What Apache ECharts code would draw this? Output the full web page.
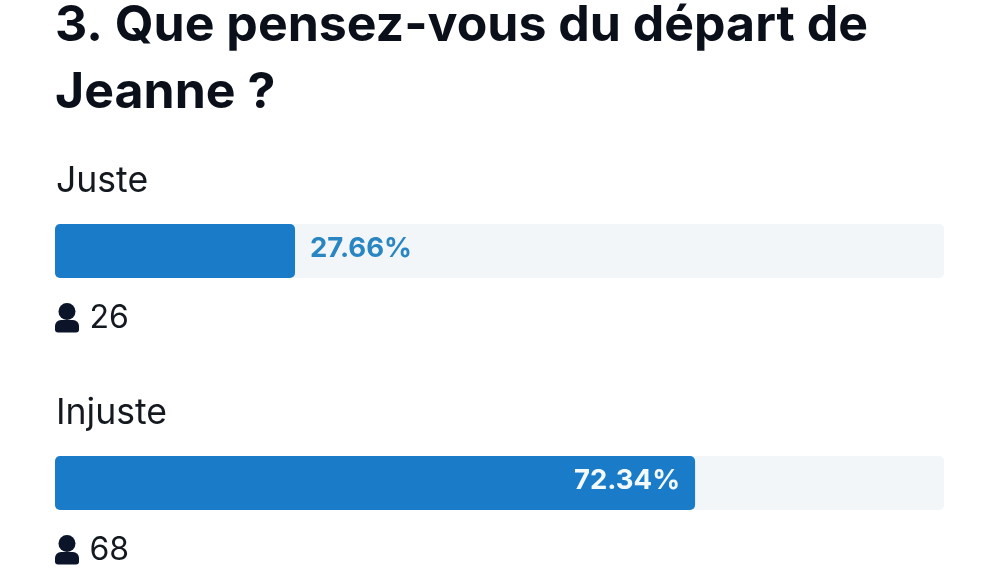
<!DOCTYPE html>
<html><head><meta charset="utf-8">
<style>html,body{margin:0;padding:0;background:#fff}#c{width:1000px;height:573px}</style>
<script src="https://cdn.jsdelivr.net/npm/echarts@6/dist/echarts.min.js"></script>
</head><body><div id="c"></div>
<script>
const titleText = "3. Que pensez-vous du départ de\nJeanne ?";
const categories = ["Juste", "Injuste"];
const barLengths = [27, 72];
const percentLabels = ["27.66%", "72.34%"];
const counts = [26, 68];

const FONT = "Inter";
const barTop = [224, 456];
const barH = 54;

const grids = [], xAxes = [], yAxes = [], series = [], graphics = [];
categories.forEach((c, i) => {
  grids.push({left: 55, width: 889, top: barTop[i], height: barH});
  xAxes.push({type: "value", gridIndex: i, min: 0, max: 100, show: false});
  yAxes.push({type: "category", gridIndex: i, data: [c], show: false});
  series.push({
    type: "bar", xAxisIndex: i, yAxisIndex: i, data: [barLengths[i]],
    barWidth: barH, silent: true, animation: false,
    itemStyle: {color: "#1a7cc8", borderRadius: 5},
    showBackground: true,
    backgroundStyle: {color: "#f2f6f9", borderRadius: 5},
    label: {
      show: true,
      position: barLengths[i] > 50 ? "insideRight" : "right",
      distance: 15,
      offset: [0, -2],
      formatter: () => percentLabels[i],
      fontFamily: FONT, fontWeight: 700, fontSize: 27.5,
      color: barLengths[i] > 50 ? "#f4f9fd" : "#2a86c2"
    }
  });
  graphics.push({type: "text", x: 56, y: barTop[i] - 43,
    style: {text: c, font: `400 35.6px ${FONT}`, fill: "#14181f", textVerticalAlign: "middle"}});
  graphics.push({type: "circle", shape: {cx: 67, cy: barTop[i] + 87.5, r: 8.5}, style: {fill: "#0b1428"}});
  graphics.push({type: "rect", shape: {x: 55, y: barTop[i] + 96, width: 24, height: 12.5, r: [6, 6, 3, 3]}, style: {fill: "#0b1428"}});
  graphics.push({type: "text", x: 89.5, y: barTop[i] + 94,
    style: {text: String(counts[i]), font: `400 32px ${FONT}`, fill: "#14181f", textVerticalAlign: "middle"}});
});

const chart = echarts.init(document.getElementById("c"), null, {renderer: "canvas"});
chart.setOption({
  backgroundColor: "#ffffff", animation: false,
  title: {text: titleText, left: 55, top: -8, padding: 0,
    textStyle: {fontFamily: FONT, fontWeight: 700, fontSize: 50, lineHeight: 67, color: "#0a0f1a"}},
  grid: grids, xAxis: xAxes, yAxis: yAxes, series: series, graphic: graphics
});
</script></body></html>
